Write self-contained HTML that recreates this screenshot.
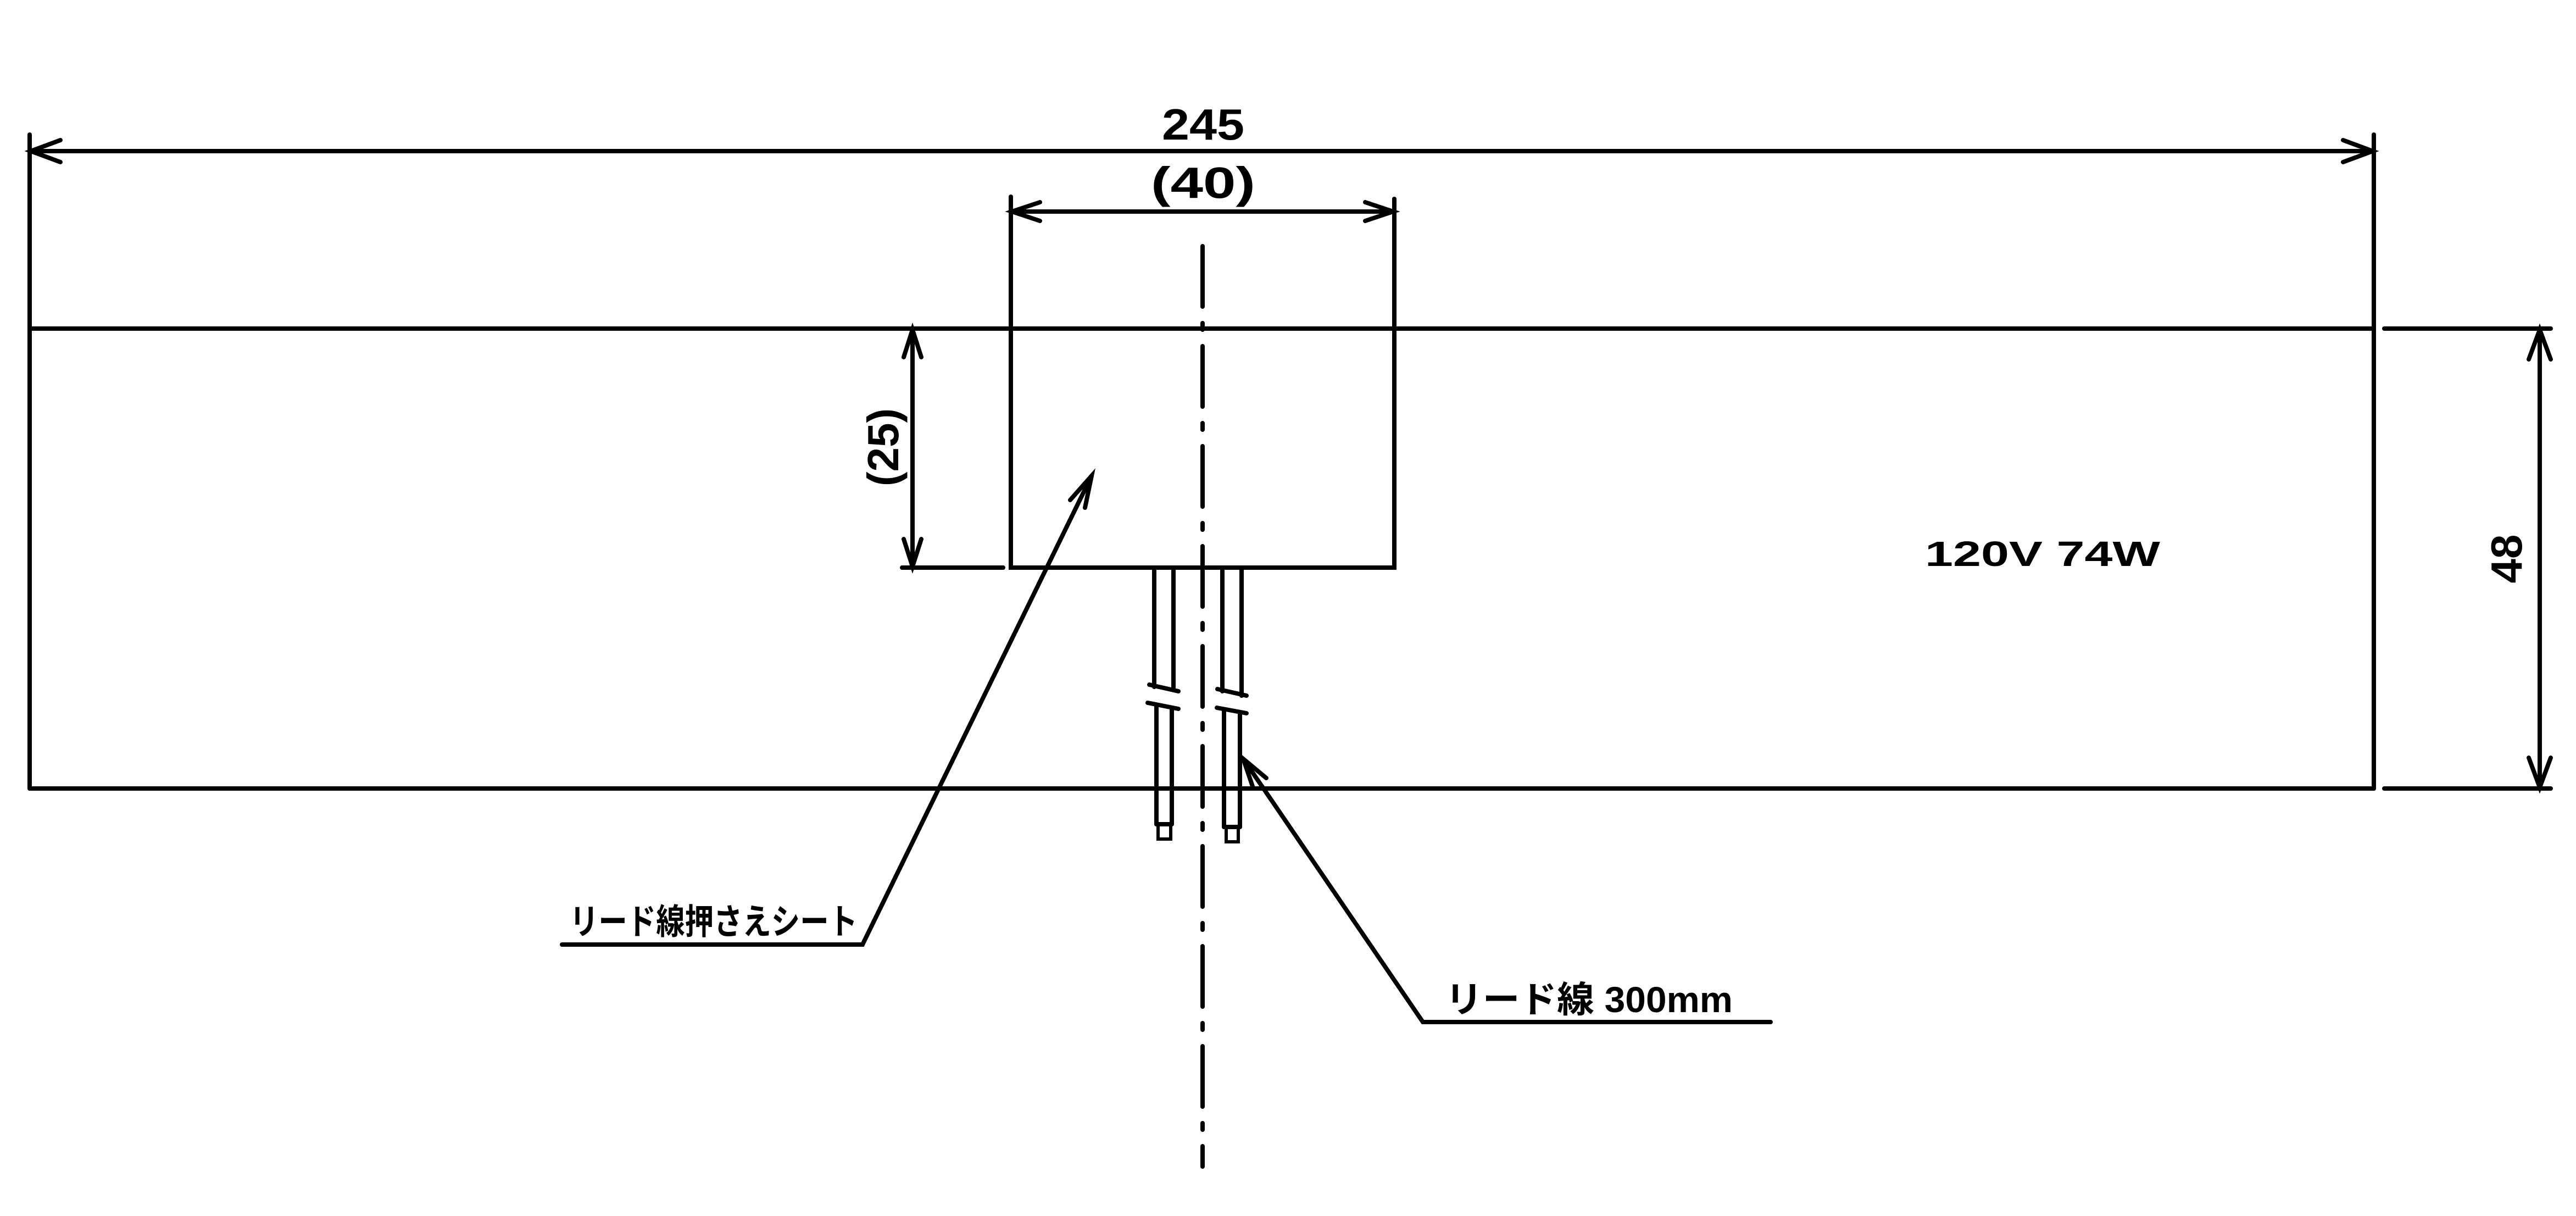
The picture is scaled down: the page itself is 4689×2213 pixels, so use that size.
<!DOCTYPE html>
<html><head><meta charset="utf-8"><style>html,body{margin:0;padding:0;background:#fff}svg{display:block}</style></head>
<body>
<svg width="4689" height="2213" viewBox="0 0 4689 2213" xmlns="http://www.w3.org/2000/svg">
<g stroke="#000" stroke-width="8" fill="none" stroke-linecap="round">
<line x1="54" y1="598" x2="4321" y2="598"/>
<line x1="54" y1="1435" x2="4321" y2="1435"/>
<line x1="54" y1="245" x2="54" y2="1435"/>
<line x1="4321" y1="245" x2="4321" y2="1435"/>
<line x1="4340" y1="598" x2="4643" y2="598"/>
<line x1="4340" y1="1435" x2="4643" y2="1435"/>
<line x1="56" y1="275" x2="4319" y2="275"/>
<polyline points="110,255 56,275 110,295"/>
<polyline points="4265,255 4319,275 4265,295"/>
<line x1="4623" y1="600" x2="4623" y2="1433"/>
<polyline points="4603,654 4623,600 4643,654"/>
<polyline points="4603,1379 4623,1433 4643,1379"/>
<rect x="1840" y="598" width="698" height="435"/>
<line x1="1840" y1="358" x2="1840" y2="598"/>
<line x1="2538" y1="362" x2="2538" y2="598"/>
<line x1="1842" y1="385" x2="2536" y2="385"/>
<polyline points="1893,368 1842,385 1893,402"/>
<polyline points="2485,368 2536,385 2485,402"/>
<line x1="1642" y1="1033" x2="1826" y2="1033"/>
<line x1="1661" y1="600" x2="1661" y2="1031"/>
<polyline points="1645,650 1661,600 1677,650"/>
<polyline points="1645,981 1661,1031 1677,981"/>
<line x1="2189" y1="448" x2="2189" y2="2123" stroke-dasharray="110,30,12,30"/>
<line x1="2101" y1="1033" x2="2101" y2="1250"/>
<line x1="2136" y1="1033" x2="2136" y2="1256"/>
<line x1="2092" y1="1246" x2="2145" y2="1258"/>
<line x1="2089" y1="1279" x2="2145" y2="1290"/>
<line x1="2105" y1="1283" x2="2105" y2="1500"/>
<line x1="2133" y1="1289" x2="2133" y2="1500"/>
<line x1="2105" y1="1500" x2="2133" y2="1500"/>
<rect x="2108" y="1500" width="23" height="27" stroke-width="6"/>
<line x1="2225" y1="1033" x2="2225" y2="1258"/>
<line x1="2260" y1="1033" x2="2260" y2="1266"/>
<line x1="2216" y1="1254" x2="2269" y2="1266"/>
<line x1="2215" y1="1288" x2="2269" y2="1298"/>
<line x1="2228" y1="1291" x2="2228" y2="1505"/>
<line x1="2257" y1="1297" x2="2257" y2="1505"/>
<line x1="2228" y1="1505" x2="2257" y2="1505"/>
<rect x="2232" y="1505" width="22" height="27" stroke-width="6"/>
<polyline points="1987,866 1570,1719 1023,1719"/>
<polyline points="1948,910 1987,866 1975,924"/>
<polyline points="2263,1381 2590,1860 3223,1860"/>
<polyline points="2305,1416 2263,1381 2280,1431"/>
</g>
<g font-family="Liberation Sans, Noto Sans CJK JP, sans-serif" font-weight="bold" fill="#000">
<text x="2190" y="254" font-size="80" text-anchor="middle" textLength="150" lengthAdjust="spacingAndGlyphs">245</text>
<text x="2190" y="360" font-size="80" text-anchor="middle" textLength="190" lengthAdjust="spacingAndGlyphs">(40)</text>
<text x="3718" y="1030" font-size="64" text-anchor="middle" textLength="428" lengthAdjust="spacingAndGlyphs">120V  74W</text>
<text transform="translate(4590,1017) rotate(-90)" font-size="80" text-anchor="middle">48</text>
<text transform="translate(1635,814) rotate(-90)" font-size="80" text-anchor="middle">(25)</text>
<text x="1037" y="1700" font-size="64" textLength="524" lengthAdjust="spacingAndGlyphs">リード線押さえシート</text>
<text x="2631" y="1842" font-size="66" textLength="523" lengthAdjust="spacingAndGlyphs">リード線 300mm</text>
</g>
</svg>
</body></html>
